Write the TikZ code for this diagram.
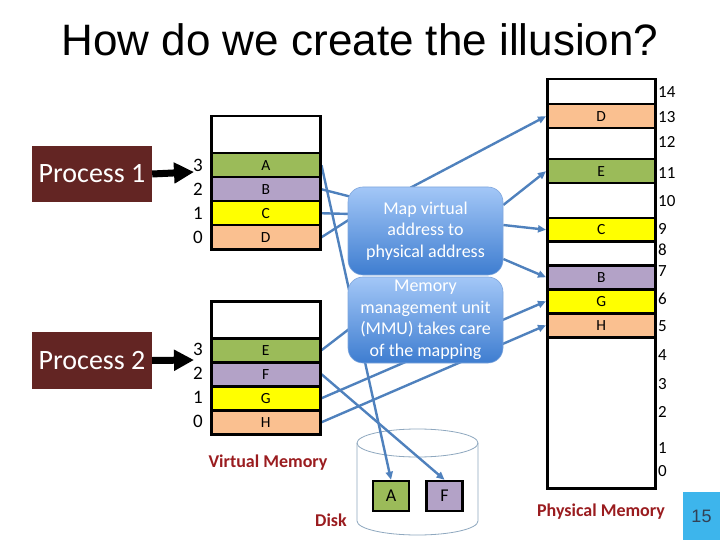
\documentclass[tikz,border=0pt]{standalone}
\usepackage{fontspec}
\setmainfont{Carlito}
\newfontfamily\arialf{Liberation Sans}
\usetikzlibrary{arrows.meta,calc}
\pgfdeclarelayer{bg}
\pgfsetlayers{bg,main}
\definecolor{pgreen}{HTML}{9BBB59}
\definecolor{ppurple}{HTML}{B3A2C7}
\definecolor{pyellow}{HTML}{FFFF00}
\definecolor{ppeach}{HTML}{FAC090}
\definecolor{procred}{HTML}{632523}
\definecolor{dred}{HTML}{9A1C1F}
\definecolor{linkblue}{HTML}{4F81BD}
\definecolor{boxtop}{HTML}{A3C7F7}
\definecolor{boxbot}{HTML}{3E7DD0}
\definecolor{boxedge}{HTML}{7FA6DC}
\definecolor{numblue}{HTML}{3DB5EC}
\definecolor{diskedge}{HTML}{8FA8BF}
\tikzset{
  cell/.style={draw=black, line width=2.5pt, inner sep=0pt, anchor=north west,
    font=\fontsize{15.5}{15.5}\selectfont},
  vcell/.style={cell, minimum width=109pt, minimum height=24pt},
  pcell/.style={cell, minimum width=108pt, minimum height=24pt},
  vnum/.style={font=\fontsize{19}{19}\selectfont, inner sep=0pt},
  pnum/.style={font=\fontsize{17}{17}\selectfont, inner sep=0pt, anchor=west},
  proc/.style={fill=procred, text=white, minimum width=120pt, minimum height=56pt,
    inner sep=0pt, font=\fontsize{28}{28}\selectfont},
  procarrow/.style={line width=7pt, -{Triangle[length=20pt,width=20pt]}},
  mmu/.style={rounded corners=15pt, top color=boxtop, bottom color=boxbot,
    draw=boxedge, line width=0.6pt, minimum width=155pt, text=white, align=center,
    font=\fontsize{18}{21.5}\selectfont, inner sep=0pt},
  link/.style={draw=linkblue, line width=2.4pt, -{Triangle[length=8pt,width=7pt]}},
  plainlink/.style={draw=linkblue, line width=2.4pt},
  dbox/.style={draw=black, line width=2.5pt, minimum width=36pt, minimum height=30pt,
    inner sep=0pt, font=\fontsize{18}{18}\selectfont},
  caption/.style={text=dred, font=\bfseries\fontsize{18}{18}\selectfont, inner sep=0pt},
}
\begin{document}
\begin{tikzpicture}[x=1pt,y=-1pt]
\useasboundingbox (0,0) rectangle (720,540);

% title
\node[font=\arialf\fontsize{44}{44}\selectfont, inner sep=0pt] (title) at (360,40) {How do we create the illusion?};

% processes
\node[proc] (p1) at (92,174) {Process 1};
\node[proc, minimum height=57pt] (p2) at (92,360.5) {Process 2};
\coordinate (t1) at (194,172);
\coordinate (t2) at (194,360);
\draw[procarrow] (p1.east) -- (t1);
\draw[procarrow] (p2.east) -- (t2);

% virtual memory 1
\node[vcell, minimum height=37pt] (v1top) at (210,115) {};
\node[vcell, fill=pgreen] (vA) at (210,152) {A};
\node[vcell, fill=ppurple] (vB) at (210,176) {B};
\node[vcell, fill=pyellow] (vC) at (210,200) {C};
\node[vcell, fill=ppeach] (vD) at (210,224) {D};
\node[vnum] (n13) at (198,165) {3};
\node[vnum] (n12) at (198,189) {2};
\node[vnum] (n11) at (198,213) {1};
\node[vnum] (n10) at (198,237) {0};

% virtual memory 2
\node[vcell, minimum height=37pt] (v2top) at (210,300) {};
\node[vcell, fill=pgreen] (vE) at (210,337) {E};
\node[vcell, fill=ppurple] (vF) at (210,361) {F};
\node[vcell, fill=pyellow] (vG) at (210,385) {G};
\node[vcell, fill=ppeach] (vH) at (210,409) {H};
\node[vnum] (n23) at (198,349) {3};
\node[vnum] (n22) at (198,373) {2};
\node[vnum] (n21) at (198,397) {1};
\node[vnum] (n20) at (198,421) {0};

\node[caption] (vmlabel) at (268,463) {Virtual Memory};

% physical memory
\node[pcell, minimum height=25pt] (p14) at (546,78) {};
\node[pcell, fill=ppeach] (pD) at (546,103) {D};
\node[pcell, minimum height=31pt] (p12) at (546,127) {};
\node[pcell, fill=pgreen] (pE) at (546,158) {E};
\node[pcell, minimum height=35pt] (p10) at (546,182) {};
\node[pcell, fill=pyellow, minimum height=23pt] (pC) at (546,217) {C};
\node[pcell] (p8) at (546,240) {};
\node[pcell, fill=ppurple] (pB) at (546,264) {B};
\node[pcell, fill=pyellow] (pG) at (546,288) {G};
\node[pcell, fill=ppeach] (pH) at (546,312) {H};
\node[pcell, minimum height=151pt] (prest) at (546,336) {};
\foreach \n/\y in {14/92,13/117,12/142,11/173,10/201,9/229,8/250,7/271,6/299,5/326,4/355,3/384,2/412,1/448,0/471}
  \node[pnum] (pn\n) at (658,\y) {\n};
\node[caption] (pmlabel) at (601,512) {Physical Memory};

% MMU boxes
\node[mmu, minimum height=88pt] (map) at (425.5,231) {Map virtual\\address to\\physical address};
\node[mmu, minimum height=86pt] (mmu) at (425.5,320) {Memory\\management unit\\(MMU) takes care\\of the mapping};

% disk
\node[dbox, fill=pgreen] (dA) at (391,496) {A};
\node[dbox, fill=ppurple] (dF) at (444.5,496) {F};
\node[caption] (disklabel) at (331,520) {Disk};

% slide number
\node[fill=numblue, minimum width=37pt, minimum height=48pt, inner sep=0pt,
  font=\arialf\fontsize{18}{18}\selectfont, text={rgb,255:red,50;green,65;blue,85}] (slideno) at (701.5,516) {15};

\begin{pgfonlayer}{bg}
  % disk cylinder
  \draw[diskedge, line width=0.8pt, fill=white]
    (357,443) -- (357,521) arc[start angle=180, end angle=360, x radius=60.5, y radius=-14]
    -- (478,443);
  \draw[diskedge, line width=0.8pt] (417.5,443) ellipse[x radius=60.5, y radius=14];
  % connectors
  \coordinate (mB) at ($(map.west)+(4,-34)$);
  \coordinate (mC) at ($(map.west)+(4,-17)$);
  \coordinate (mD) at ($(map.west)+(4,-13)$);
  \coordinate (mE) at ($(mmu.west)+(4,7)$);
  \draw[plainlink] (vB.east) -- (mB);
  \draw[plainlink] (vC.east) -- (mC);
  \draw[plainlink] (vD.east) -- (mD);
  \draw[plainlink] (vE.east) -- (mE);
  \draw[link] ($(map.north)+(-15,1)$) -- (pD.west);
  \draw[link] ($(map.east)+(0,-26)$) -- (pE.west);
  \draw[link] ($(map.east)+(0,-6)$) -- (pC.west);
  \draw[link] ($(map.east)+(0,28)$) -- (pB.west);
  \draw[link] (vG.east) -- (pG.west);
  \draw[link] (vH.east) -- (pH.west);
  \draw[link] (vA.east) -- (dA.north);
  \draw[link] (vF.east) -- (dF.north);
\end{pgfonlayer}
\end{tikzpicture}
\end{document}
